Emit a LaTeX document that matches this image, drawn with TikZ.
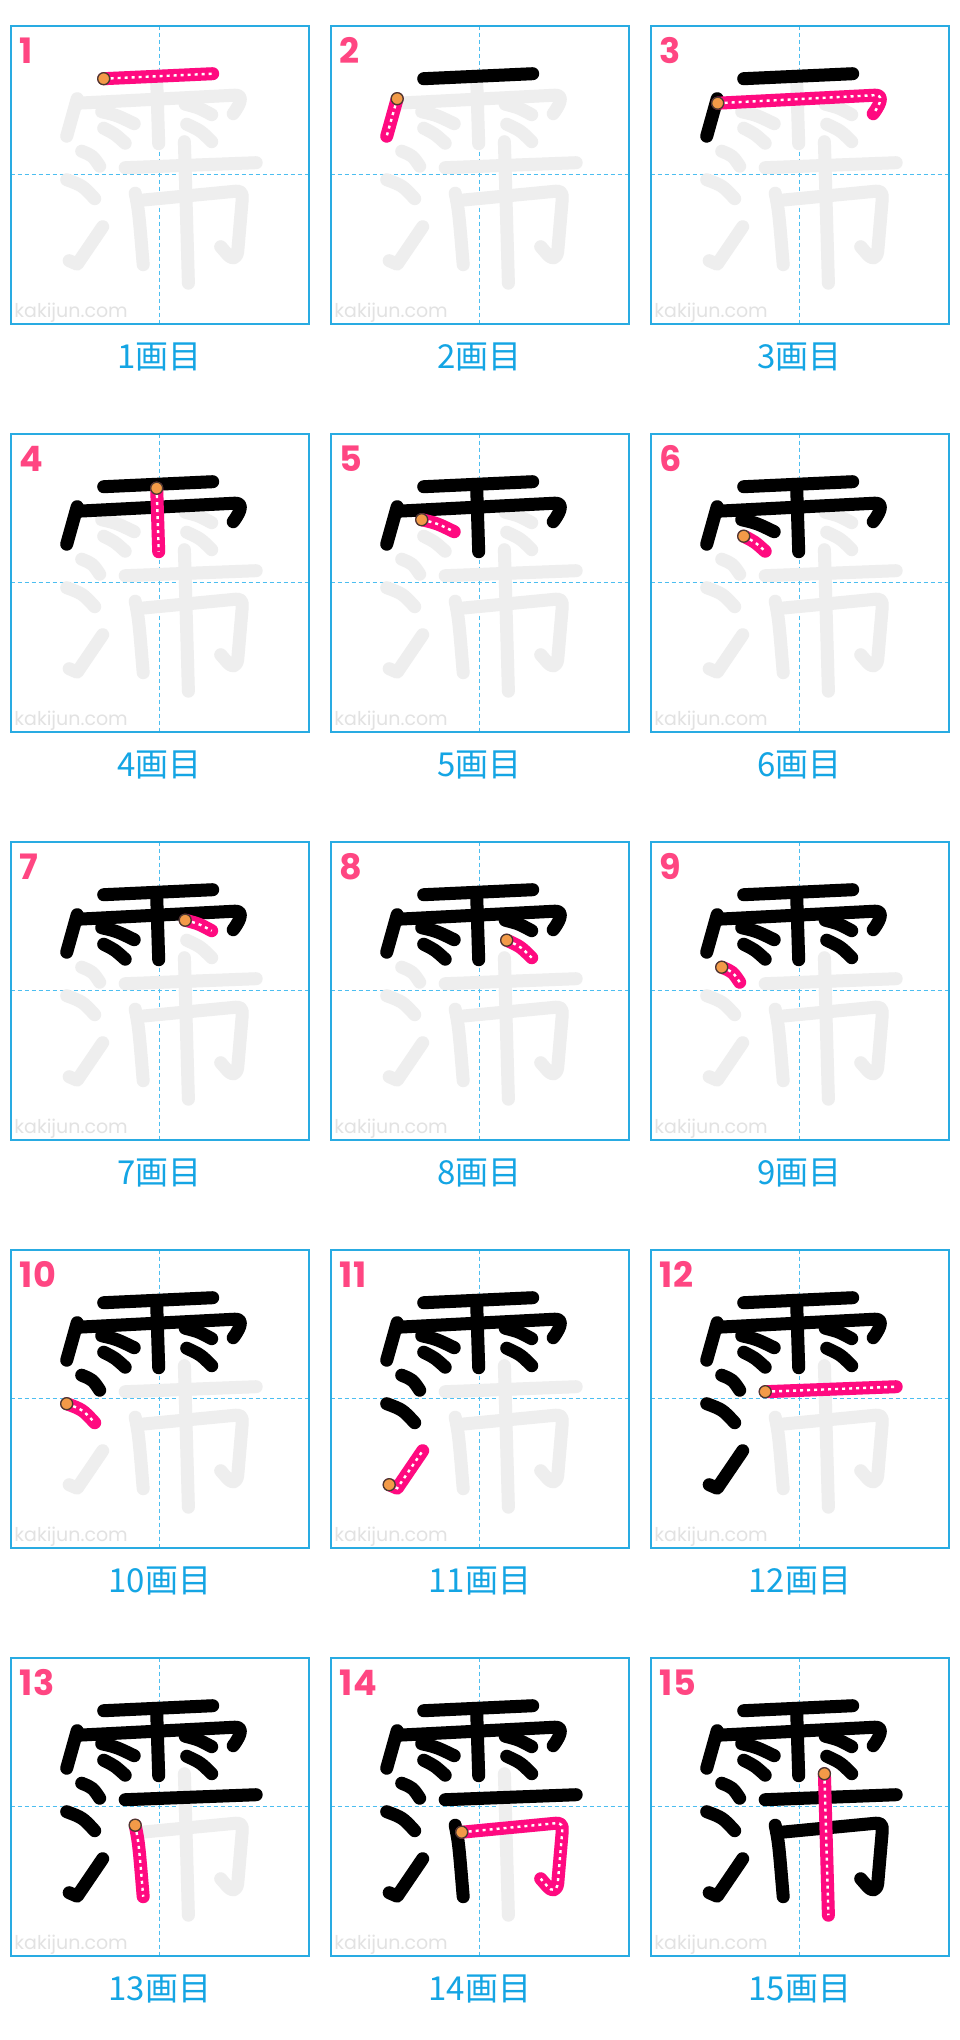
\documentclass[tikz,border=0pt]{standalone}
\usepackage{fontspec}
\setmainfont{Noto Sans CJK JP}
\newfontfamily\numfont{Poppins}
\usetikzlibrary{positioning}
\definecolor{frame}{HTML}{29ABE2}
\definecolor{guide}{HTML}{4CBEF0}
\definecolor{cap}{HTML}{14A5E4}
\definecolor{hot}{HTML}{FF0A80}
\definecolor{numc}{HTML}{FF4682}
\definecolor{ghost}{HTML}{EEEEEE}
\definecolor{wmark}{HTML}{E2E2E2}
\definecolor{dotfill}{HTML}{F39A48}
\definecolor{dotline}{HTML}{4A3A30}
\tikzset{
  panel/.style={draw=frame,line width=1.6pt},
  guideline/.style={draw=guide,line width=1.5pt,dash pattern=on 4pt off 3pt},
  ghoststroke/.style={draw=ghost,line width=13pt,line cap=round,line join=round},
  donestroke/.style={ghoststroke,draw=black},
  curstroke/.style={ghoststroke,draw=hot},
  curdots/.style={draw=white,line width=2.4pt,dash pattern=on 3pt off 4pt},
  startdot/.style={circle,fill=dotfill,draw=dotline,line width=1.3pt,minimum size=12pt,inner sep=0pt},
  stepnum/.style={anchor=west,inner sep=0pt,text=numc,font=\numfont\bfseries\fontsize{35}{35}\selectfont},
  caption/.style={text=cap,font=\fontsize{33}{33}\selectfont},
  wm/.style={anchor=west,inner sep=0pt,text=wmark,font=\numfont\fontsize{19}{19}\selectfont},
}
% strokes of the character, panel pixels, y down
\expandafter\def\csname kst1\endcsname{(93,53) coordinate (st) -- (202,48)}
\expandafter\def\csname kst2\endcsname{(66.5,73) coordinate (st) -- (56,110.5)}
\expandafter\def\csname kst3\endcsname{(67,77.5) coordinate (st) -- (224,69.5) .. controls (232,69) and (231.5,76) .. (222.5,88)}
\expandafter\def\csname kst4\endcsname{(146,54.5) coordinate (st) -- (148,118)}
\expandafter\def\csname kst5\endcsname{(91,86) coordinate (st) .. controls (106,89.5) .. (123.5,98)}
\expandafter\def\csname kst6\endcsname{(93,102.5) coordinate (st) .. controls (104,108) .. (114.5,117.5)}
\expandafter\def\csname kst7\endcsname{(174.5,78.5) coordinate (st) .. controls (188,82) .. (201,89)}
\expandafter\def\csname kst8\endcsname{(176,98.5) coordinate (st) .. controls (190,105) .. (201,116)}
\expandafter\def\csname kst9\endcsname{(71,125.5) coordinate (st) .. controls (82,130) .. (89,140.5)}
\expandafter\def\csname kst10\endcsname{(56,154) coordinate (st) .. controls (72,160) .. (84,173)}
\expandafter\def\csname kst11\endcsname{(58.5,235) coordinate (st) -- (66.5,238.5) -- (92,201)}
\expandafter\def\csname kst12\endcsname{(114.5,142) coordinate (st) -- (245.5,137)}
\expandafter\def\csname kst13\endcsname{(124.5,167.5) coordinate (st) .. controls (128,185) .. (132.5,239)}
\expandafter\def\csname kst14\endcsname{(131,174.5) coordinate (st) -- (225,165.5) .. controls (231,165) and (232,168) .. (231.5,174) -- (227,226) .. controls (226,233) and (221,234) .. (217,229) -- (210,221)}
\expandafter\def\csname kst15\endcsname{(173.7,116) coordinate (st) -- (177.7,257.5)}
\begin{document}
\begin{tikzpicture}[x=1pt,y=-1pt]
\useasboundingbox (0,0) rectangle (960,2040);
\fill[white] (0,0) rectangle (960,2040);
\foreach \n [evaluate=\n as \col using {int(mod(\n-1,3))},
             evaluate=\n as \row using {int((\n-1)/3)}] in {1,...,15}{
\begin{scope}[shift={(10.7+320*\col,25.7+408*\row)}]
% ---- frame and guides ----
\draw[guideline] (149,0) -- (149,298);
\draw[guideline] (0,149) -- (298,149);
\draw[panel] (0,0) rectangle (298,298);
\node[wm] (wm\n) at (3.5,287) {kakijun.com};
% ---- whole character in grey ----
\foreach \s in {1,...,15}{
  \expandafter\let\expandafter\kpath\csname kst\s\endcsname
  \draw[ghoststroke] \kpath;}
% ---- strokes already written ----
\ifnum\n>1
  \pgfmathtruncatemacro\prev{\n-1}
  \foreach \s in {1,...,\prev}{
    \expandafter\let\expandafter\kpath\csname kst\s\endcsname
    \draw[donestroke] \kpath;}
\fi
% ---- current stroke ----
\expandafter\let\expandafter\kpath\csname kst\n\endcsname
\draw[curstroke] \kpath;
\draw[curdots] \kpath;
\node[startdot] (dot\n) at (st) {};
\node[stepnum] (num\n) at (9,25) {\n};
\node[caption] (lab\n) at (149,331) {{\n}画目};
\end{scope}
}
\end{tikzpicture}
\end{document}
